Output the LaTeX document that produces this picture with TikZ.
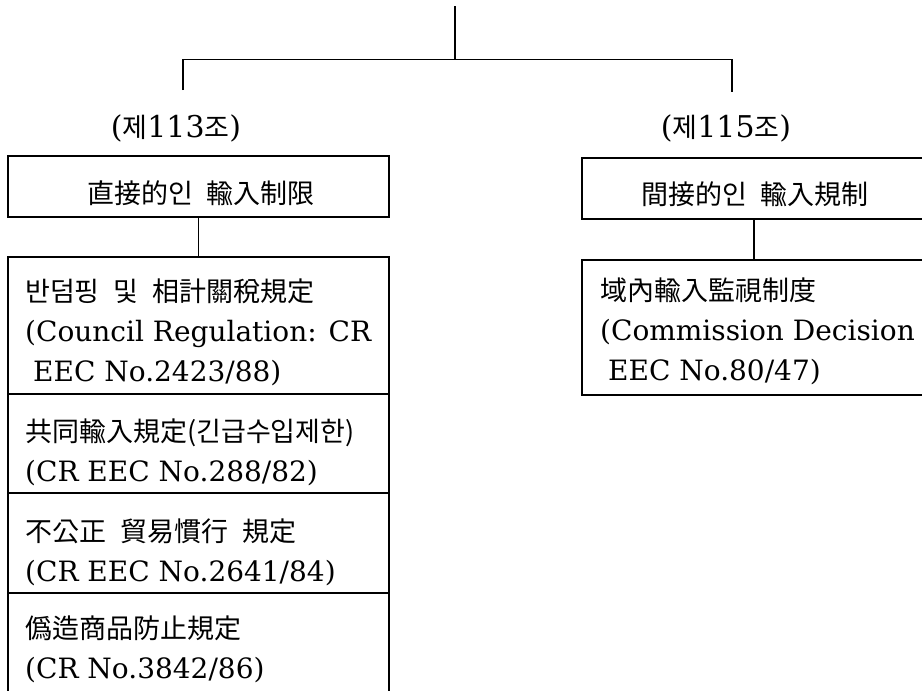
\documentclass[tikz,border=0pt]{standalone}
\usepackage{fontspec}
\setmainfont{DejaVu Serif}
\newfontfamily\kr{Noto Sans CJK KR}
\newcommand\KR[1]{{\kr\fontsize{27}{40}\selectfont #1}}
\newcommand\ksp{\hspace{14pt}}
\begin{document}
\begin{tikzpicture}[x=1pt,y=-1pt]
\tikzset{
  boxnode/.style={draw, rectangle, inner sep=0pt, line width=1.5pt},
  conn/.style={line width=1.6pt},
  txt/.style={inner sep=0pt, font=\fontsize{28}{40}\selectfont},
  lbl/.style={inner sep=0pt, font=\fontsize{30}{36}\selectfont},
  stacktxt/.style={txt, anchor=west, align=left},
}
\useasboundingbox (0,0) rectangle (922,691);
\fill[white] (0,0) rectangle (922,691);
\clip (0,0) rectangle (922,691);

% tree connectors
\coordinate (top) at (455,6);
\coordinate (j) at (455,59.5);
\coordinate (lj) at (183,59.5);
\coordinate (ld) at (183,90);
\coordinate (rj) at (732,59.5);
\coordinate (rd) at (732,92);
\draw[conn] (top) -- (j);
\draw[conn] (ld) -- (lj) -- (rj) -- (rd);

% article labels
\node[lbl] (l113) at (176,128) {(\KR{제}113\KR{조})};
\node[lbl] (l115) at (726,128) {(\KR{제}115\KR{조})};

% left branch
\node[boxnode, minimum width=381pt, minimum height=61pt] (b1) at (198.5,186.5) {};
\node[txt] (t1) at (201,193) {\KR{直接的인\ksp 輸入制限}};

\node[boxnode, minimum width=381pt, minimum height=137pt] (s1) at (198.5,325.5) {};
\node[boxnode, minimum width=381pt, minimum height=99pt] (s2) at (198.5,443.5) {};
\node[boxnode, minimum width=381pt, minimum height=100pt] (s3) at (198.5,543) {};
\node[boxnode, minimum width=381pt, minimum height=127pt] (s4) at (198.5,656.5) {};

\draw[conn] (b1.south) -- (b1.south |- s1.north);

\node[stacktxt] (st1) at (25,332) {\KR{반덤핑\ksp 및\ksp 相計關稅規定}\\(Council Regulation: CR\\\hspace*{8pt}EEC No.2423/88)};
\node[stacktxt] (st2) at (25,452) {\KR{共同輸入規定(긴급수입제한)}\\(CR EEC No.288/82)};
\node[stacktxt] (st3) at (25,552) {\KR{不公正\ksp 貿易慣行\ksp 規定}\\(CR EEC No.2641/84)};
\node[stacktxt] (st4) at (25,649) {\KR{僞造商品防止規定}\\(CR No.3842/86)};

% right branch
\node[boxnode, minimum width=344pt, minimum height=61pt] (r1) at (754,188.5) {};
\node[txt] (t2) at (755,194) {\KR{間接的인\ksp 輸入規制}};

\node[boxnode, minimum width=344pt, minimum height=135pt] (r2) at (754,327.5) {};
\draw[conn] (r1.south) -- (r1.south |- r2.north);

\node[stacktxt] (rt2) at (600,331) {\KR{域內輸入監視制度}\\(Commission Decision\\\hspace*{8pt}EEC No.80/47)};
\end{tikzpicture}
\end{document}
